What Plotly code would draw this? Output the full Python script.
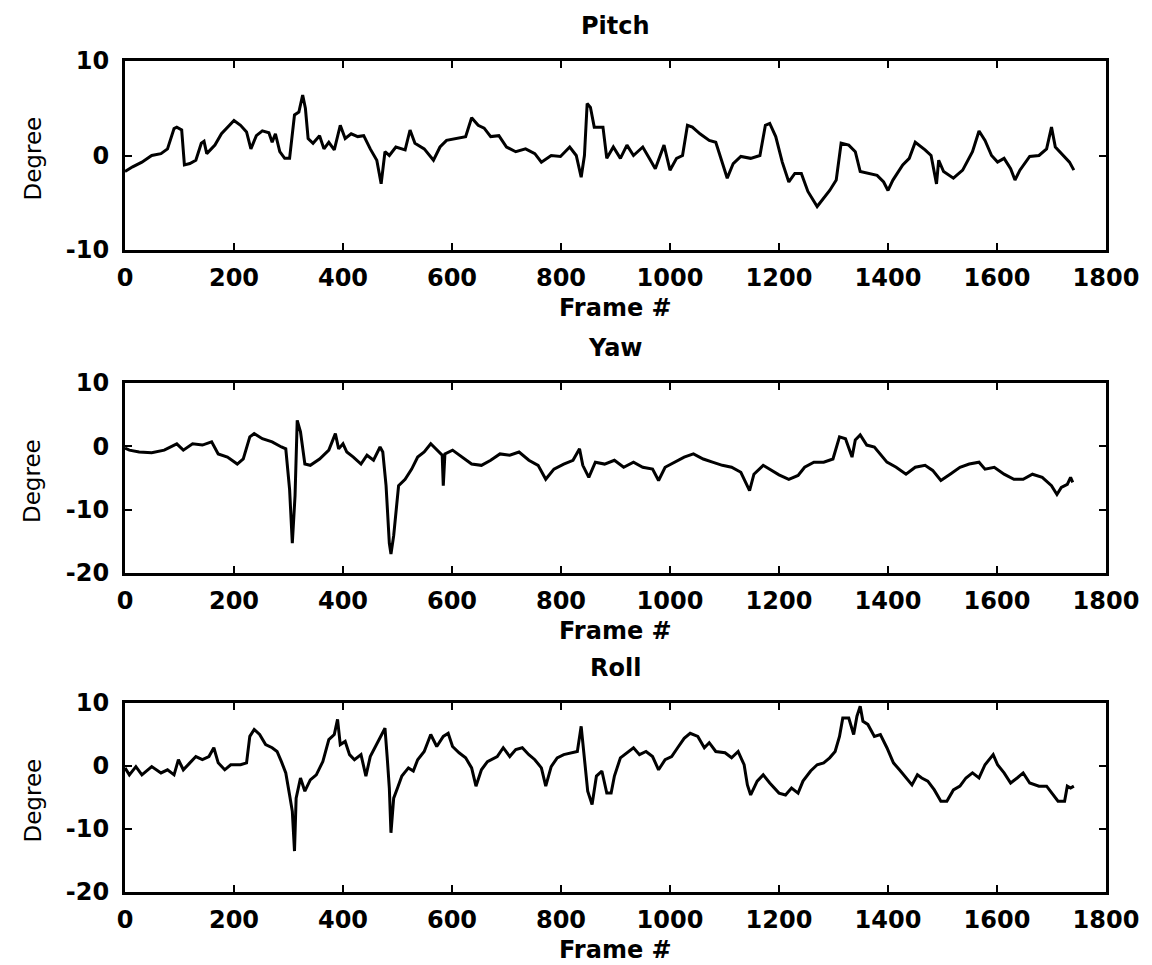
import plotly.graph_objects as go

# ---------------- data ----------------
pitch_frame = [0, 14, 31, 49, 66, 78, 90, 95, 104, 109,
               119, 130, 140, 145, 150, 165, 177, 188, 200, 212,
               223, 231, 241, 252, 264, 270, 276, 284, 293, 302,
               311, 319, 326, 331, 336, 345, 357, 365, 374, 384,
               395, 404, 415, 427, 438, 450, 462, 470, 477, 485,
               497, 514, 523, 532, 549, 566, 578, 590, 607, 625,
               636, 648, 659, 671, 686, 700, 717, 735, 752, 764,
               782, 799, 816, 828, 837, 843, 848, 854, 861, 869,
               877, 884, 896, 909, 921, 933, 950, 962, 973, 989,
               1000, 1012, 1023, 1032, 1041, 1055, 1072, 1084, 1096, 1105,
               1116, 1130, 1148, 1165, 1175, 1183, 1194, 1206, 1218, 1229,
               1241, 1253, 1270, 1282, 1293, 1305, 1314, 1328, 1340, 1349,
               1363, 1380, 1392, 1400, 1409, 1427, 1439, 1450, 1468, 1479,
               1489, 1493, 1502, 1520, 1537, 1555, 1567, 1578, 1590, 1601,
               1613, 1625, 1633, 1642, 1660, 1677, 1691, 1700, 1707, 1721,
               1733, 1741]
pitch_deg = [-1.7, -1.2, -0.7, 0.0, 0.2, 0.7, 2.85, 3.0, 2.7, -1.0,
             -0.85, -0.5, 1.3, 1.5, 0.2, 1.1, 2.3, 3.0, 3.7, 3.2,
             2.5, 0.7, 2.1, 2.6, 2.4, 1.4, 2.3, 0.4, -0.3, -0.3,
             4.3, 4.6, 6.4, 5.0, 1.8, 1.3, 2.1, 0.7, 1.4, 0.6,
             3.2, 1.8, 2.3, 2.0, 2.1, 0.7, -0.5, -3.0, 0.4, 0.0,
             0.9, 0.6, 2.7, 1.3, 0.7, -0.5, 0.9, 1.6, 1.8, 2.0,
             4.0, 3.2, 2.9, 2.0, 2.1, 0.9, 0.4, 0.7, 0.2, -0.7,
             0.0, -0.1, 0.9, 0.0, -2.3, 0.0, 5.5, 5.1, 3.0, 3.0,
             3.0, -0.3, 0.9, -0.3, 1.1, 0.0, 0.9, -0.3, -1.4, 1.1,
             -1.55, -0.3, 0.0, 3.2, 3.0, 2.3, 1.6, 1.4, -0.7, -2.4,
             -0.85, -0.1, -0.3, 0.0, 3.2, 3.4, 2.0, -0.7, -2.8, -1.9,
             -1.9, -3.8, -5.4, -4.5, -3.7, -2.6, 1.3, 1.1, 0.4, -1.7,
             -1.9, -2.1, -2.8, -3.7, -2.6, -1.0, -0.3, 1.4, 0.6, 0.0,
             -3.0, -0.5, -1.7, -2.4, -1.55, 0.4, 2.6, 1.6, 0.0, -0.7,
             -0.3, -1.4, -2.6, -1.55, -0.1, 0.0, 0.7, 3.0, 0.9, 0.0,
             -0.7, -1.55]

yaw_frame = [0, 8, 26, 49, 72, 95, 107, 124, 142, 159,
             171, 188, 206, 217, 229, 237, 252, 270, 287, 295,
             302, 307, 312, 316, 322, 330, 340, 357, 374, 386,
             392, 400, 407, 419, 433, 444, 456, 468, 473, 479,
             485, 488, 493, 498, 502, 514, 526, 537, 549, 561,
             572, 582, 584, 587, 601, 619, 636, 654, 671, 688,
             706, 723, 741, 758, 772, 787, 805, 822, 834, 840,
             851, 863, 880, 898, 915, 933, 950, 968, 979, 991,
             1008, 1026, 1043, 1061, 1078, 1096, 1113, 1130, 1146, 1154,
             1171, 1183, 1200, 1218, 1235, 1247, 1264, 1282, 1299, 1311,
             1322, 1334, 1340, 1349, 1361, 1375, 1386, 1398, 1415, 1433,
             1450, 1468, 1482, 1497, 1514, 1532, 1549, 1567, 1578, 1595,
             1613, 1631, 1648, 1665, 1683, 1700, 1710, 1718, 1729, 1735,
             1739]
yaw_deg = [-0.3, -0.6, -0.9, -1.0, -0.6, 0.4, -0.6, 0.4, 0.2, 0.7,
           -1.2, -1.7, -2.8, -2.0, 1.5, 2.0, 1.2, 0.7, -0.1, -0.4,
           -6.8, -15.3, -7.8, 4.1, 2.3, -2.8, -3.0, -2.0, -0.6, 2.0,
           -0.4, 0.4, -0.9, -1.7, -2.8, -1.4, -2.2, -0.1, -0.9, -6.2,
           -15.3, -17.0, -14.1, -9.9, -6.2, -5.2, -3.6, -1.7, -0.9, 0.4,
           -0.6, -1.4, -6.2, -1.2, -0.6, -1.7, -2.8, -3.0, -2.2, -1.2,
           -1.4, -0.9, -2.2, -3.0, -5.2, -3.6, -2.8, -2.2, -0.4, -3.0,
           -4.9, -2.5, -2.8, -2.2, -3.3, -2.5, -3.3, -3.6, -5.4, -3.3,
           -2.5, -1.7, -1.2, -2.0, -2.5, -3.0, -3.3, -4.1, -7.0, -4.4,
           -3.0, -3.6, -4.5, -5.2, -4.6, -3.3, -2.5, -2.5, -2.0, 1.5,
           1.2, -1.7, 1.0, 1.8, 0.2, -0.1, -1.2, -2.5, -3.3, -4.4,
           -3.3, -3.0, -3.8, -5.4, -4.4, -3.3, -2.8, -2.5, -3.6, -3.3,
           -4.4, -5.2, -5.2, -4.4, -4.9, -6.2, -7.6, -6.5, -6.0, -4.9,
           -5.7]

roll_frame = [0, 8, 20, 31, 49, 66, 78, 90, 98, 107,
              119, 130, 142, 154, 163, 171, 183, 194, 212, 223,
              229, 237, 247, 258, 270, 279, 287, 295, 302, 307,
              311, 314, 322, 330, 340, 351, 363, 374, 384, 390,
              395, 404, 412, 421, 433, 442, 450, 462, 470, 477,
              481, 485, 488, 493, 500, 508, 520, 529, 537, 549,
              561, 572, 584, 593, 601, 613, 625, 636, 644, 654,
              665, 683, 694, 706, 717, 729, 741, 752, 764, 772,
              782, 793, 805, 819, 830, 837, 843, 849, 857, 865,
              875, 884, 892, 898, 909, 921, 933, 944, 956, 968,
              979, 991, 1003, 1014, 1026, 1037, 1051, 1063, 1072, 1084,
              1101, 1113, 1125, 1136, 1142, 1148, 1160, 1171, 1183, 1200,
              1212, 1223, 1235, 1244, 1258, 1270, 1282, 1293, 1303, 1311,
              1317, 1328, 1337, 1343, 1349, 1354, 1363, 1375, 1386, 1398,
              1410, 1421, 1433, 1444, 1454, 1462, 1473, 1485, 1497, 1508,
              1520, 1532, 1543, 1555, 1567, 1578, 1593, 1601, 1613, 1625,
              1637, 1648, 1660, 1677, 1691, 1703, 1712, 1724, 1729, 1735,
              1741]
roll_deg = [-0.3, -1.4, -0.1, -1.4, -0.1, -1.1, -0.6, -1.4, 1.0, -0.6,
            0.5, 1.5, 1.0, 1.5, 2.9, 0.5, -0.6, 0.2, 0.2, 0.5,
            4.7, 5.8, 5.0, 3.4, 2.9, 2.3, 0.7, -1.1, -4.6, -7.2,
            -13.5, -5.1, -1.9, -4.0, -2.2, -1.4, 0.7, 4.2, 5.0, 7.4,
            3.4, 3.9, 1.8, 1.0, 1.8, -1.6, 1.5, 3.4, 4.7, 6.0,
            1.5, -3.5, -10.6, -5.1, -3.5, -1.6, -0.3, -0.8, 1.0, 2.3,
            5.0, 3.1, 4.7, 5.2, 3.1, 2.1, 1.3, -0.3, -3.2, -0.6,
            0.7, 1.5, 2.9, 1.5, 2.6, 2.9, 1.8, 1.0, -0.3, -3.2,
            -0.1, 1.3, 1.8, 2.1, 2.3, 6.3, 0.7, -4.0, -6.1, -1.6,
            -0.8, -4.3, -4.3, -1.6, 1.3, 2.1, 2.9, 1.8, 2.3, 1.5,
            -0.6, 1.0, 1.5, 2.9, 4.4, 5.2, 4.7, 2.9, 3.7, 2.3,
            2.1, 1.3, 2.3, 0.2, -3.0, -4.6, -2.4, -1.4, -2.7, -4.3,
            -4.6, -3.5, -4.3, -2.4, -0.8, 0.2, 0.5, 1.3, 2.3, 4.7,
            7.6, 7.6, 5.0, 7.9, 9.5, 7.1, 6.6, 4.7, 5.0, 2.9,
            0.5, -0.6, -1.9, -3.0, -1.4, -1.9, -2.4, -3.8, -5.6, -5.6,
            -3.8, -3.2, -1.9, -1.1, -1.9, 0.2, 1.8, 0.2, -1.1, -2.7,
            -1.9, -1.1, -2.7, -3.2, -3.2, -4.6, -5.6, -5.6, -3.2, -3.5,
            -3.2]

titles = ["Pitch", "Yaw", "Roll"]
x_ticks = [0, 200, 400, 600, 800, 1000, 1200, 1400, 1600, 1800]
y_ticks_pitch = [-10, 0, 10]
y_ticks_other = [-20, -10, 0, 10]

series = [(pitch_frame, pitch_deg), (yaw_frame, yaw_deg), (roll_frame, roll_deg)]

# ---------------- figure ----------------
OFF = 8                      # page body margin in the browser
W, H = 1152 - OFF, 965 - OFF
ML, MR, MT, MB = 125 - OFF, 46, 61 - OFF, 73
plot_h = H - MT - MB
plot_w = W - ML - MR

# panel pixel extents in the reference picture (top, bottom)
panels_px = [(61, 250), (383, 573), (703, 892)]


def py(ypx):
    return (H - MB - (ypx - OFF)) / plot_h


def px(xpx):
    return (xpx - OFF - ML) / plot_w


fig = go.Figure()
for i, (fx, fy) in enumerate(series):
    n = "" if i == 0 else str(i + 1)
    fig.add_trace(go.Scatter(x=fx, y=fy, mode="lines",
                             line=dict(color="black", width=3),
                             xaxis="x" + n, yaxis="y" + n,
                             showlegend=False, hoverinfo="skip"))

tick_font = dict(family="DejaVu Sans", size=24, color="black", weight="bold")
layout = dict(width=W, height=H, margin=dict(l=ML, r=MR, t=MT, b=MB),
              plot_bgcolor="white", paper_bgcolor="white", showlegend=False)

annotations = []
for i, (top, bot) in enumerate(panels_px):
    n = "" if i == 0 else str(i + 1)
    dom = [py(bot), py(top)]
    ax_common = dict(showline=True, linewidth=3, linecolor="black",
                     mirror="ticks", ticks="inside", ticklen=7, tickwidth=2,
                     tickcolor="black", showgrid=False, zeroline=False,
                     tickfont=tick_font)
    layout["xaxis" + n] = dict(ax_common, domain=[0, 1], range=[0, 1800],
                               tickvals=x_ticks,
                               ticktext=[str(v) for v in x_ticks],
                               anchor="y" + n, ticklabelstandoff=4)
    yt = y_ticks_pitch if i == 0 else y_ticks_other
    layout["yaxis" + n] = dict(ax_common, domain=dom, range=[yt[0], yt[-1]],
                               tickvals=yt, ticktext=[str(v) for v in yt],
                               anchor="x" + n, ticklabelstandoff=8)
    # panel title
    annotations.append(dict(text=titles[i], x=0.5, xref="paper",
                            y=py(top - 35), yref="paper", showarrow=False,
                            xanchor="center", yanchor="middle",
                            font=dict(family="DejaVu Sans", size=24,
                                      color="black", weight="bold")))
    # x label
    annotations.append(dict(text="Frame #", x=0.5, xref="paper",
                            y=py(bot + 58), yref="paper", showarrow=False,
                            xanchor="center", yanchor="middle",
                            font=dict(family="DejaVu Sans", size=24,
                                      color="black", weight="bold")))
    # y label
    annotations.append(dict(text="Degree", x=px(32), xref="paper",
                            y=py((top + bot) / 2 + 3), yref="paper",
                            showarrow=False, textangle=-90,
                            xanchor="center", yanchor="middle",
                            font=dict(family="DejaVu Sans", size=23,
                                      color="black")))

layout["annotations"] = annotations
fig.update_layout(**layout)
fig.write_html("out.html")
